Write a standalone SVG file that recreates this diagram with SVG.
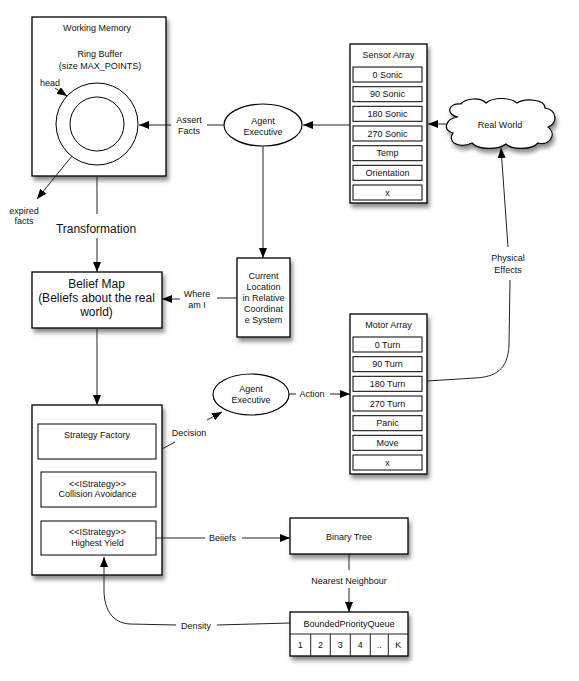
<svg xmlns="http://www.w3.org/2000/svg" width="579" height="681" viewBox="0 0 579 681">
<defs>
<filter id="sh" x="-20%" y="-20%" width="150%" height="150%">
<feDropShadow dx="2" dy="4" stdDeviation="2.2" flood-color="#000" flood-opacity="0.45"/>
</filter>
<marker id="ah" markerUnits="userSpaceOnUse" markerWidth="10" markerHeight="8" refX="10" refY="4" orient="auto">
<path d="M0,0 L10,4 L0,8 Z" fill="#000"/>
</marker>
<style>
text{font-family:"Liberation Sans",Arial,sans-serif;font-size:9px;fill:#111;text-anchor:middle}
.big{font-size:12px}
.box{fill:#fff;stroke:#000;stroke-width:1.3}
.item{fill:#fff;stroke:#000;stroke-width:1}
.ln{fill:none;stroke:#222;stroke-width:1}
.ar{fill:none;stroke:#222;stroke-width:1;marker-end:url(#ah)}
</style>
</defs>
<rect width="579" height="681" fill="#fff"/>

<g id="working-memory">
<rect class="box" x="32" y="17" width="134" height="159" filter="url(#sh)"/>
<text x="97" y="31">Working Memory</text>
<text x="100" y="57">Ring Buffer</text>
<text x="100" y="69">(size MAX_POINTS)</text>
<circle cx="97" cy="124" r="41" fill="none" stroke="#000" stroke-width="1"/>
<circle cx="97" cy="124" r="27" fill="none" stroke="#000" stroke-width="1"/>
<text x="50" y="86">head</text>
</g>

<g id="agent-executive-1">
<ellipse cx="263" cy="125" rx="39" ry="21" fill="#fff" stroke="#000" stroke-width="1.2"/>
<text x="263" y="123.5">Agent</text>
<text x="263" y="134.5">Executive</text>
</g>

<g id="sensor-array">
<rect class="box" x="350" y="44" width="77" height="159" filter="url(#sh)"/>
<text x="388.5" y="58">Sensor Array</text>
<rect class="item" x="353" y="67" width="69" height="15"/><text x="387.5" y="77.7">0 Sonic</text>
<rect class="item" x="353" y="86.7" width="69" height="15"/><text x="387.5" y="97.4">90 Sonic</text>
<rect class="item" x="353" y="106.3" width="69" height="15"/><text x="387.5" y="117">180 Sonic</text>
<rect class="item" x="353" y="126" width="69" height="15"/><text x="387.5" y="136.7">270 Sonic</text>
<rect class="item" x="353" y="145.7" width="69" height="15"/><text x="387.5" y="156.4">Temp</text>
<rect class="item" x="353" y="165.3" width="69" height="15"/><text x="387.5" y="176">Orientation</text>
<rect class="item" x="353" y="185" width="69" height="15"/><text x="387.5" y="195.7">x</text>
</g>

<g id="real-world">
<path d="M458,117 C446,115 447,103 461,104 C466,98 480,97 486,103 C493,97 510,97 517,103 C525,98 545,99 545,108 C557,110 558,123 548,127 C557,134 550,146 538,143 C532,150 512,150 506,144 C498,150 478,150 472,143 C462,148 446,144 453,133 C443,131 444,119 458,117 Z" fill="#fff" stroke="#000" stroke-width="1.2" filter="url(#sh)"/>
<text x="500" y="128">Real World</text>
</g>

<g id="belief-map">
<rect class="box" x="32" y="272" width="130" height="56" filter="url(#sh)"/>
<text class="big" x="96.5" y="288">Belief Map</text>
<text class="big" x="96.5" y="302">(Beliefs about the real</text>
<text class="big" x="96.5" y="316">world)</text>
</g>

<g id="current-location">
<rect class="box" x="237" y="258" width="53" height="79" filter="url(#sh)"/>
<text x="263.5" y="279">Current</text>
<text x="263.5" y="290">Location</text>
<text x="263.5" y="301">in Relative</text>
<text x="263.5" y="312">Coordinat</text>
<text x="263.5" y="323">e System</text>
</g>

<g id="agent-executive-2">
<ellipse cx="251" cy="394.5" rx="38" ry="20.5" fill="#fff" stroke="#000" stroke-width="1.2"/>
<text x="251" y="392">Agent</text>
<text x="251" y="403">Executive</text>
</g>

<g id="motor-array">
<rect class="box" x="350" y="314" width="77" height="160" filter="url(#sh)"/>
<text x="388.5" y="328">Motor Array</text>
<rect class="item" x="353" y="337" width="69" height="15"/><text x="387.5" y="347.7">0 Turn</text>
<rect class="item" x="353" y="356.7" width="69" height="15"/><text x="387.5" y="367.4">90 Turn</text>
<rect class="item" x="353" y="376.3" width="69" height="15"/><text x="387.5" y="387">180 Turn</text>
<rect class="item" x="353" y="396" width="69" height="15"/><text x="387.5" y="406.7">270 Turn</text>
<rect class="item" x="353" y="415.7" width="69" height="15"/><text x="387.5" y="426.4">Panic</text>
<rect class="item" x="353" y="435.3" width="69" height="15"/><text x="387.5" y="446">Move</text>
<rect class="item" x="353" y="455" width="69" height="15"/><text x="387.5" y="465.7">x</text>
</g>

<g id="strategy">
<rect class="box" x="32" y="405" width="130" height="170" filter="url(#sh)"/>
<rect class="item" x="38" y="424" width="118" height="35"/>
<text x="97" y="438">Strategy Factory</text>
<rect class="item" x="41" y="472" width="115" height="35"/>
<text x="97.5" y="486.5">&lt;&lt;IStrategy&gt;&gt;</text>
<text x="97.5" y="497">Collision Avoidance</text>
<rect class="item" x="41" y="521" width="115" height="34"/>
<text x="97.5" y="535">&lt;&lt;IStrategy&gt;&gt;</text>
<text x="97.5" y="545.5">Highest Yield</text>
</g>

<g id="binary-tree">
<rect class="box" x="290" y="518" width="118" height="36" filter="url(#sh)"/>
<text x="349" y="540">Binary Tree</text>
</g>

<g id="bounded-priority-queue">
<rect class="box" x="290" y="612" width="118" height="44" filter="url(#sh)"/>
<line class="ln" x1="290" y1="634" x2="408" y2="634" stroke="#000"/>
<line class="ln" x1="310.7" y1="634" x2="310.7" y2="656"/>
<line class="ln" x1="330.3" y1="634" x2="330.3" y2="656"/>
<line class="ln" x1="350.3" y1="634" x2="350.3" y2="656"/>
<line class="ln" x1="370.3" y1="634" x2="370.3" y2="656"/>
<line class="ln" x1="388.3" y1="634" x2="388.3" y2="656"/>
<text x="349" y="627">BoundedPriorityQueue</text>
<text x="300.3" y="648">1</text>
<text x="320.5" y="648">2</text>
<text x="340.3" y="648">3</text>
<text x="360.3" y="648">4</text>
<text x="379.3" y="648">..</text>
<text x="398.3" y="648">K</text>
</g>

<g id="connectors">
<path class="ar" d="M350,125 L303,125"/>
<path class="ar" d="M446,124 L428,124"/>
<path class="ln" d="M224,125 L207,125"/>
<text x="189" y="122.5">Assert</text>
<text x="189" y="133.5">Facts</text>
<path class="ar" d="M171,125 L139,125"/>
<path class="ar" d="M55,88 L67,96"/>
<path class="ar" d="M72,156 L37,199"/>
<text x="24" y="214">expired</text>
<text x="24" y="224">facts</text>
<path class="ln" d="M97,176 L97,214"/>
<text class="big" x="96" y="233">Transformation</text>
<path class="ar" d="M97,238 L97,272"/>
<path class="ar" d="M263,146 L263,258"/>
<path class="ln" d="M237,298 L217,298"/>
<text x="197" y="297">Where</text>
<text x="197" y="308">am I</text>
<path class="ar" d="M180,299 L162,299"/>
<path class="ar" d="M97,328 L97,405"/>
<path class="ln" d="M162,449 L175,442"/>
<text x="189" y="436">Decision</text>
<path class="ar" d="M207,420 L222,412"/>
<path class="ln" d="M289,394 L296,394"/>
<text x="312" y="397">Action</text>
<path class="ar" d="M330,394 L350,394"/>
<path class="ar" d="M508,247 L501,148"/>
<text x="508" y="261">Physical</text>
<text x="508" y="273">Effects</text>
<path class="ln" d="M510,280 L509,345 C508,370 495,377 475,378 L427,381"/>
<path class="ln" d="M156,538 L205,538"/>
<text x="222.5" y="541">Beiiefs</text>
<path class="ar" d="M242,538 L290,538"/>
<path class="ln" d="M349,554 L349,570"/>
<text x="349" y="584">Nearest Neighbour</text>
<path class="ar" d="M349,588 L349,612"/>
<path class="ln" d="M290,623 L217,625"/>
<text x="196" y="629">Density</text>
<path class="ar" d="M176,625 L130,624 C110,623 104,606 104,590 L104,557"/>
</g>
</svg>
